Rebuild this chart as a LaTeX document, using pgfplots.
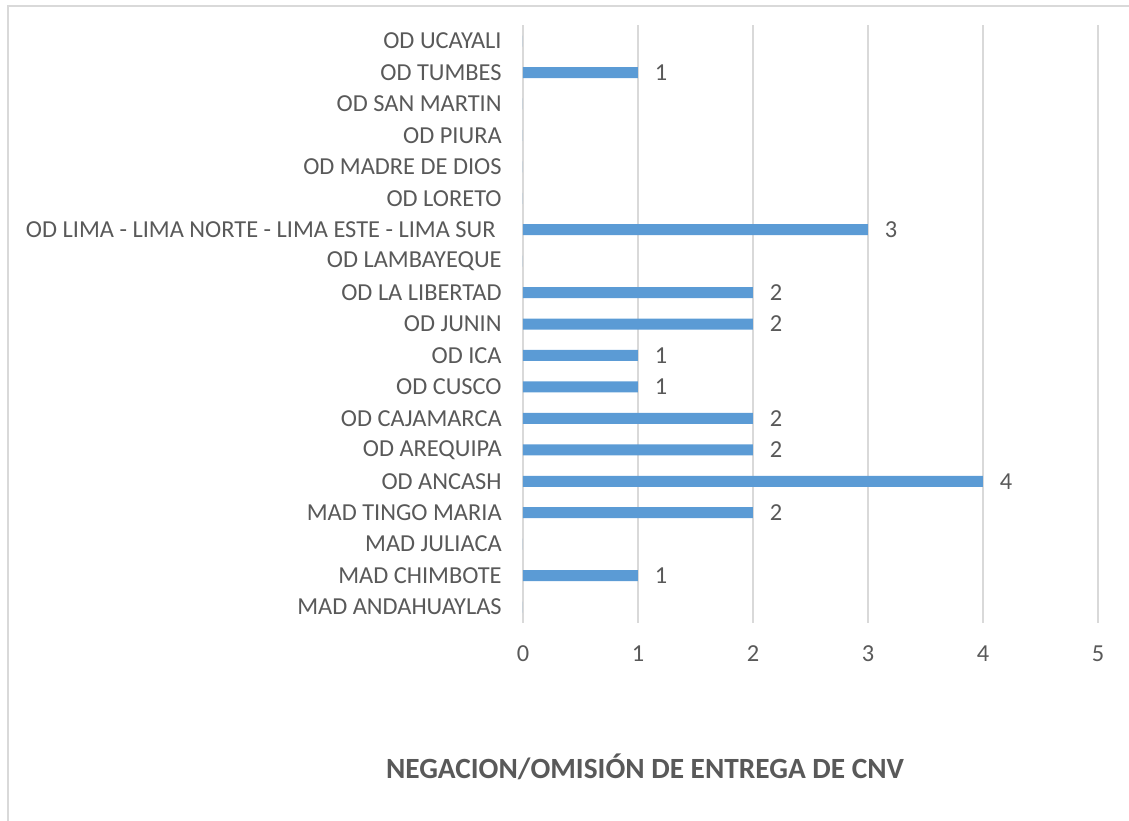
\documentclass[border=0pt]{standalone}
\usepackage{pgfplots}
\pgfplotsset{compat=1.18}
\usepackage{fontspec}
\setmainfont{Carlito}
\definecolor{txt}{HTML}{595959}
\definecolor{grd}{HTML}{D9D9D9}
\definecolor{barc}{HTML}{5B9BD5}
\begin{document}
\begin{tikzpicture}[x=0.75pt,y=0.75pt]
\useasboundingbox (0,0) rectangle (1129,821);
\draw[grd, line width=1.2pt] (8,0) -- (8,815) -- (1129,815);
\begin{axis}[
  at={(392.25pt,148.7pt)}, anchor=south west,
  scale only axis, width=431.25pt, height=448pt,
  xbar, bar width=8.25pt,
  xmin=0, xmax=5, ymin=-0.5, ymax=18.5,
  xtick={0,1,2,3,4,5},
  ytick={0,...,18},
  yticklabels={MAD ANDAHUAYLAS, MAD CHIMBOTE, MAD JULIACA, MAD TINGO MARIA, OD ANCASH, OD AREQUIPA, OD CAJAMARCA, OD CUSCO, OD ICA, OD JUNIN, OD LA LIBERTAD, OD LAMBAYEQUE, {OD LIMA - LIMA NORTE - LIMA ESTE - LIMA SUR\kern4.5pt}, OD LORETO, OD MADRE DE DIOS, OD PIURA, OD SAN MARTIN, OD TUMBES, OD UCAYALI},
  axis line style={draw=none},
  major tick length=0pt,
  xmajorgrids, major grid style={grd, line width=1.2pt},
  ticklabel style={font=\fontsize{18.3}{22}\selectfont, text=txt},
  yticklabel style={xshift=-12.5pt},
  xticklabel style={yshift=-13.5pt},
  /pgf/number format/assume math mode=true,
  nodes near coords={\pgfmathfloatifflags{\pgfplotspointmeta}{0}{}{\pgfmathprintnumber{\pgfplotspointmeta}}},
  nodes near coords style={font=\fontsize{18.3}{22}\selectfont, text=txt, anchor=west, inner sep=0pt, xshift=12.5pt},
]
\addplot[draw=none, fill=barc] coordinates {
(0,0) (1,1) (0,2) (2,3) (4,4) (2,5) (2,6) (1,7) (1,8) (2,9) (2,10) (0,11) (3,12) (0,13) (0,14) (0,15) (0,16) (1,17) (0,18)
};
\end{axis}
\node[font=\fontsize{22}{26}\selectfont\bfseries, text=txt] at (645,54) {NEGACION/OMISIÓN DE ENTREGA DE CNV};
\end{tikzpicture}
\end{document}
